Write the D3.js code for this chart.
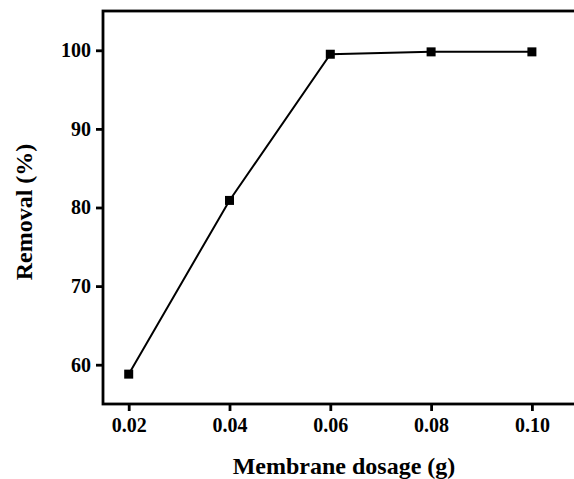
<!DOCTYPE html>
<html>
<head>
  <meta charset="utf-8">
  <script src="https://d3js.org/d3.v7.min.js"></script>
  <style>
    body { margin: 0; background: #fff; }
    text { font-family: "Liberation Serif", "Times New Roman", serif; font-weight: bold; }
  </style>
</head>
<body>
<script>
  // membrane dosage (g) vs removal (%)
  var dosage = [0.02, 0.04, 0.06, 0.08, 0.10];
  var removal = [58.8, 80.9, 99.5, 99.8, 99.8];
  var xTicks = [0.02, 0.04, 0.06, 0.08, 0.10];
  var yTicks = [60, 70, 80, 90, 100];

  var width = 574, height = 479;
  var plotLeft = 103, plotTop = 11, plotBottom = 404;

  var svg = d3.select("body").append("svg")
      .attr("width", width)
      .attr("height", height);

  var x = d3.scaleLinear().domain([0.0149, 0.11]).range([plotLeft, plotLeft + (0.11 - 0.0149) * 5040]);
  var y = d3.scaleLinear().domain([55, 105]).range([plotBottom, plotTop]);

  var data = dosage.map(function (d, i) { return {x: d, y: removal[i]}; });

  // frame
  svg.append("rect")
      .attr("x", x.range()[0])
      .attr("y", plotTop)
      .attr("width", x.range()[1] - x.range()[0])
      .attr("height", plotBottom - plotTop)
      .attr("fill", "none")
      .attr("stroke", "#000")
      .attr("stroke-width", 2.8);

  var xAxis = svg.append("g")
      .attr("transform", "translate(0," + plotBottom + ")")
      .call(d3.axisBottom(x).tickValues(xTicks).tickSize(7).tickPadding(7)
        .tickFormat(d3.format(".2f")));
  var yAxis = svg.append("g")
      .attr("transform", "translate(" + plotLeft + ",0)")
      .call(d3.axisLeft(y).tickValues(yTicks).tickSize(7).tickPadding(5));

  [xAxis, yAxis].forEach(function (a) {
    a.select(".domain").remove();
    a.selectAll(".tick line").attr("stroke", "#000").attr("stroke-width", 2.8);
    a.selectAll(".tick text")
        .attr("fill", "#000")
        .style("font-size", "20px");
  });

  var line = d3.line()
      .x(function (d) { return x(d.x); })
      .y(function (d) { return y(d.y); });

  svg.append("path")
      .datum(data)
      .attr("d", line)
      .attr("fill", "none")
      .attr("stroke", "#000")
      .attr("stroke-width", 2);

  svg.selectAll(".pt")
      .data(data)
      .enter()
      .append("rect")
      .attr("class", "pt")
      .attr("x", function (d) { return x(d.x) - 4.5; })
      .attr("y", function (d) { return y(d.y) - 4.5; })
      .attr("width", 9)
      .attr("height", 9)
      .attr("fill", "#000");

  svg.append("text")
      .attr("x", 344)
      .attr("y", 474)
      .attr("text-anchor", "middle")
      .style("font-size", "24px")
      .text("Membrane dosage (g)");

  svg.append("text")
      .attr("transform", "translate(32,212) rotate(-90)")
      .attr("text-anchor", "middle")
      .style("font-size", "24px")
      .text("Removal (%)");
</script>
</body>
</html>
